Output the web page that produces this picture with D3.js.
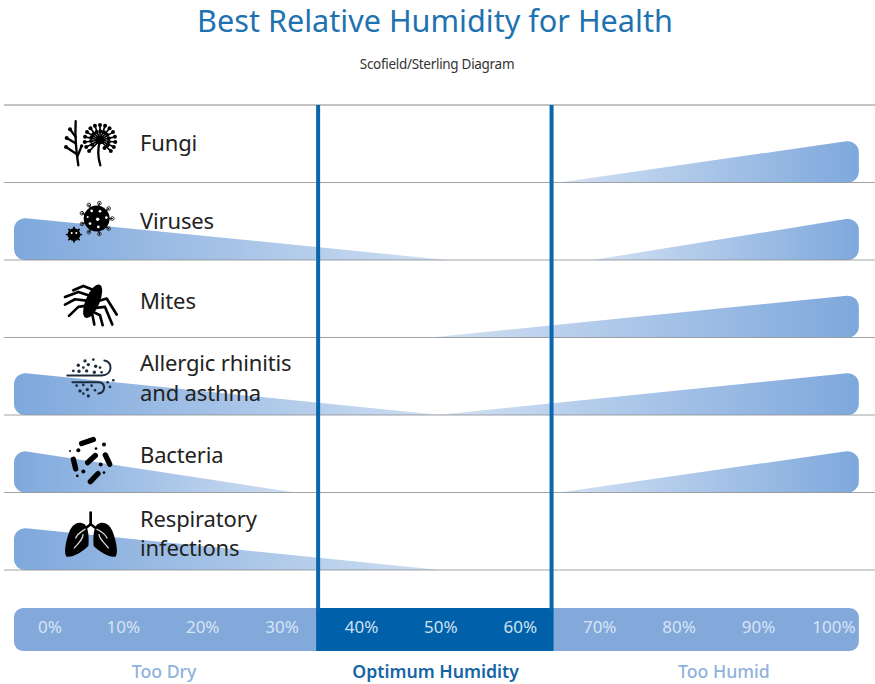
<!DOCTYPE html>
<html>
<head>
<meta charset="utf-8">
<script src="https://cdn.jsdelivr.net/npm/d3@7"></script>
<style>
    html, body { margin: 0; padding: 0; background: #fff; }
    text { font-family: "Noto Sans", sans-serif; }
</style>
</head>
<body>
<script>
// values, in % relative humidity
var categories = ["Fungi", "Viruses", "Mites", "Allergic rhinitis|and asthma", "Bacteria", "Respiratory|infections"];
var dryEnd = [null, 50.8, null, 50, 31.7, 50];       // where the "too dry" wedge runs out
var humidStart = [65, 69.2, 48.8, 49.6, 65, null];   // where the "too humid" wedge starts
var ticks = [0, 10, 20, 30, 40, 50, 60, 70, 80, 90, 100];
var optimum = [34.6, 64];
var scaleEnds = [-3.7, 102.7];
var zoneNames = ["Too Dry", "Optimum Humidity", "Too Humid"];
var zoneCentres = [15.2, 49.4, 85.7];

var width = 875;
var height = 684;
var wedgeHeight = 43;

var svg = d3.select("body").append("svg")
    .attr("width", width)
    .attr("height", height)
    .style("display", "block");

var x = d3.scaleLinear().domain([0, 100]).range([43.4, 837.4]);
var y = d3.scaleBand().domain(categories).range([105, 570]);

svg.append("text")
    .attr("x", 435).attr("y", 32)
    .attr("text-anchor", "middle")
    .style("font-size", "30.6px")
    .style("fill", "#1f72b0")
    .text("Best Relative Humidity for Health");

svg.append("text")
    .attr("x", 437).attr("y", 69)
    .attr("text-anchor", "middle")
    .style("font-size", "13.5px")
    .style("letter-spacing", "-0.3px")
    .style("fill", "#333")
    .text("Scofield/Sterling Diagram");

// wedge gradients
var defs = svg.append("defs");
function gradient(id, a, b) {
    var g = defs.append("linearGradient").attr("id", id);
    g.append("stop").attr("offset", "0%").attr("stop-color", a);
    g.append("stop").attr("offset", "100%").attr("stop-color", b);
}
gradient("dryFill", "#7ea8dc", "#cfdff2");
gradient("humidFill", "#d3e1f3", "#7ea8dc");

function wedgePath(tipValue, endValue, base) {
    var p = d3.path();
    var tip = x(tipValue);
    var end = x(endValue);
    p.moveTo(tip, base);
    p.arcTo(end, base, end, base - wedgeHeight, 11);
    p.arcTo(end, base - wedgeHeight, tip, base, 11);
    p.closePath();
    return p.toString();
}

svg.append("g").selectAll("path")
    .data(categories)
    .enter()
    .filter(function (d, i) { return dryEnd[i] !== null; })
    .append("path")
    .attr("d", function (d) {
        var i = categories.indexOf(d);
        return wedgePath(dryEnd[i], scaleEnds[0], y(d) + y.bandwidth());
    })
    .attr("fill", "url(#dryFill)");

svg.append("g").selectAll("path")
    .data(categories)
    .enter()
    .filter(function (d, i) { return humidStart[i] !== null; })
    .append("path")
    .attr("d", function (d) {
        var i = categories.indexOf(d);
        return wedgePath(humidStart[i], scaleEnds[1], y(d) + y.bandwidth());
    })
    .attr("fill", "url(#humidFill)");

// row rules
svg.append("g").selectAll("line")
    .data(categories)
    .enter()
    .append("line")
    .attr("x1", 4).attr("x2", width)
    .attr("y1", function (d) { return y(d) + y.bandwidth(); })
    .attr("y2", function (d) { return y(d) + y.bandwidth(); })
    .attr("stroke", "#8f9296")
    .attr("stroke-opacity", 0.85)
    .attr("stroke-width", 1.2);

svg.append("line")
    .attr("x1", 4).attr("x2", width)
    .attr("y1", y.range()[0]).attr("y2", y.range()[0])
    .attr("stroke", "#c4c4c4")
    .attr("stroke-width", 2);

// row labels, the lower rows sit a little low in the original
function labelDrop(i) {
    return [0, 0, 3, 2, 2, 2.5][i];
}
var labels = svg.append("g").selectAll("text")
    .data(categories)
    .enter()
    .append("text")
    .attr("x", 140)
    .attr("y", function (d, i) { return y(d) + y.bandwidth() / 2 + labelDrop(i); })
    .style("font-size", "22px")
    .style("letter-spacing", "-0.15px")
    .style("fill", "#222");

labels.selectAll("tspan")
    .data(function (d) {
        return d.split("|").map(function (t, i, all) {
            return { t: t, i: i, n: all.length };
        });
    })
    .enter()
    .append("tspan")
    .attr("x", 140)
    .attr("dy", function (d) {
        if (d.i > 0) return 29.5;
        return d.n > 1 ? -7 : 7.5;
    })
    .text(function (d) { return d.t; });

// humidity scale bar
svg.append("rect")
    .attr("x", x(scaleEnds[0])).attr("y", 608)
    .attr("width", x(scaleEnds[1]) - x(scaleEnds[0])).attr("height", 43)
    .attr("rx", 9)
    .attr("fill", "#83a9db");

svg.append("rect")
    .attr("x", x(optimum[0]) - 2).attr("y", 608)
    .attr("width", x(optimum[1]) - x(optimum[0]) + 4).attr("height", 43)
    .attr("fill", "#0061aa");

svg.append("g").selectAll("line")
    .data(optimum)
    .enter()
    .append("line")
    .attr("x1", function (d) { return x(d); })
    .attr("x2", function (d) { return x(d); })
    .attr("y1", 105).attr("y2", 610)
    .attr("stroke", "#0a66ae")
    .attr("stroke-width", 4);

var axis = svg.append("g")
    .attr("transform", "translate(0,608)")
    .call(d3.axisBottom(x).tickValues(ticks).tickSize(0).tickFormat(function (d) { return d + "%"; }));
axis.select(".domain").remove();
axis.selectAll("text")
    .attr("y", 13)
    .attr("dx", function (d) { return d === 0 ? 6 : d === 100 ? -4 : 0; })
    .style("font-family", '"Noto Sans", sans-serif')
    .style("font-size", "17px")
    .style("fill", function (d) { return d >= 40 && d <= 60 ? "#cfe0f2" : "#d7e4f4"; });

svg.append("g").selectAll("text")
    .data(zoneNames)
    .enter()
    .append("text")
    .attr("x", function (d, i) { return x(zoneCentres[i]); })
    .attr("y", 678)
    .attr("text-anchor", "middle")
    .style("font-size", "17.7px")
    .style("font-weight", function (d, i) { return i === 1 ? 600 : 500; })
    .style("fill", function (d, i) { return i === 1 ? "#1465a6" : "#8fb2dd"; })
    .text(function (d) { return d; });

// icons, each drawn in a 210x180 box that lands on a 70x60 patch of the row
function icon(rowIndex, offset) {
    var mid = y(categories[rowIndex]) + y.bandwidth() / 2;
    return svg.append("g").attr("transform", "translate(55," + (mid + offset) + ") scale(0.3333)");
}
function strokes(g, list, w, colour) {
    g.selectAll(null).data(list).enter().append("path")
        .attr("d", function (d) { return d; })
        .attr("fill", "none")
        .attr("stroke", colour || "#000")
        .attr("stroke-width", w)
        .attr("stroke-linecap", "round")
        .attr("stroke-linejoin", "round");
}
function dots(g, list, colour) {
    g.selectAll(null).data(list).enter().append("circle")
        .attr("cx", function (d) { return d[0]; })
        .attr("cy", function (d) { return d[1]; })
        .attr("r", function (d) { return d[2]; })
        .attr("fill", colour || "#000");
}
function spokes(g, cx, cy, r, from, to, n) {
    return d3.range(n).map(function (i) {
        var a = (from + (to - from) * i / (n - 1)) * Math.PI / 180;
        return [cx + r * Math.cos(a), cy + r * Math.sin(a)];
    });
}

// fungi
(function () {
    var g = icon(0, -28.5);
    strokes(g, ["M62,18C60,60 62,100 70,150", "M62,65L45,42", "M63,85L35,68", "M67,118L33,95", "M68,122L80,92"], 7);
    dots(g, [[45, 42, 6], [35, 68, 6], [33, 95, 6], [80, 92, 5]]);
    strokes(g, ["M135,75C128,100 128,125 136,150"], 7);
    var ends = spokes(g, 135, 75, 46, 135, 405, 15);
    strokes(g, ends.map(function (p) { return "M135,75L" + p[0] + "," + p[1]; }), 5);
    dots(g, ends.map(function (p) { return [p[0], p[1], 6]; }));
    dots(g, spokes(g, 135, 75, 27, 150, 420, 12).map(function (p) { return [p[0], p[1], 6]; }));
    dots(g, [[135, 75, 12]]);
})();

// viruses
(function () {
    var g = icon(1, -31);
    var big = spokes(g, 125, 85, 47, 0, 320, 9);
    strokes(g, big.map(function (p) { return "M125,85L" + p[0] + "," + p[1]; }), 4);
    g.selectAll(null).data(big).enter().append("circle")
        .attr("cx", function (d) { return d[0]; })
        .attr("cy", function (d) { return d[1]; })
        .attr("r", 5.5)
        .attr("fill", "none")
        .attr("stroke", "#333")
        .attr("stroke-width", 3);
    dots(g, [[125, 85, 39]]);
    dots(g, [[110, 62, 4], [135, 63, 4], [154, 82, 4], [128, 87, 5], [105, 100, 4], [130, 110, 4], [98, 80, 3]], "#fff");
    var small = spokes(g, 57, 133, 22, 0, 315, 8);
    strokes(g, small.map(function (p) { return "M57,133L" + p[0] + "," + p[1]; }), 5);
    dots(g, [[57, 133, 19]]);
    dots(g, [[50, 128, 3], [64, 128, 3]], "#fff");
})();

// mites
(function () {
    var g = icon(2, -23.5);
    strokes(g, [
        "M110,42L85,32L55,45",
        "M100,60L70,50L30,65",
        "M94,76L60,72L30,88",
        "M90,92L70,95L42,122",
        "M112,118L118,148",
        "M118,112L135,120L143,150",
        "M122,98L150,95L172,148",
        "M128,78L155,70L185,118"
    ], 8);
    g.append("ellipse")
        .attr("rx", 21).attr("ry", 54)
        .attr("transform", "translate(113,78) rotate(23)")
        .attr("fill", "#000");
})();

// allergic rhinitis
(function () {
    var g = icon(3, -26);
    strokes(g, ["M37,76H140C172,76 176,34 148,31", "M52,96H132C155,100 150,128 130,130"], 6, "#1d2c3c");
    dots(g, [[90, 32, 5], [115, 28, 4], [70, 45, 5], [100, 43, 5], [122, 48, 5], [85, 52, 4],
        [135, 52, 4], [55, 62, 4], [72, 63, 5], [95, 62, 5], [118, 66, 5], [140, 66, 4]], "#1d2c3c");
    dots(g, [[65, 106, 4], [85, 104, 4], [110, 106, 4], [75, 122, 5], [97, 118, 5], [120, 120, 4],
        [85, 130, 4], [100, 137, 5], [158, 96, 4], [175, 90, 4], [165, 110, 4]], "#1d2c3c");
})();

// bacteria
(function () {
    var g = icon(4, -23.5);
    strokes(g, ["M80,40L115,28", "M55,87L62,116", "M98,97L121,76", "M151,74L164,102", "M106,154L129,130"], 16);
    dots(g, [[70, 60, 6], [147, 43, 6], [45, 62, 3], [123, 55, 4], [137, 103, 6], [85, 124, 6], [67, 137, 4], [147, 127, 4]]);
})();

// respiratory infections
(function () {
    var g = icon(5, -26);
    g.selectAll(null).data([
        "M90,58C68,44 50,60 42,82C32,110 26,142 34,154C52,158 82,140 100,122C102,105 102,72 90,58Z",
        "M126,58C148,44 166,60 174,82C184,110 190,142 182,154C164,158 134,140 116,122C114,105 114,72 126,58Z"
    ]).enter().append("path").attr("d", function (d) { return d; }).attr("fill", "#000");
    strokes(g, ["M107,22V57", "M107,57L88,72", "M107,57L127,72"], 8);
    strokes(g, ["M90,72C82,78 70,82 62,98", "M84,88C84,102 74,110 58,128", "M126,72C136,78 148,82 156,98", "M132,88C134,102 146,110 160,128"], 4, "#d8d8d8");
})();
</script>
</body>
</html>
